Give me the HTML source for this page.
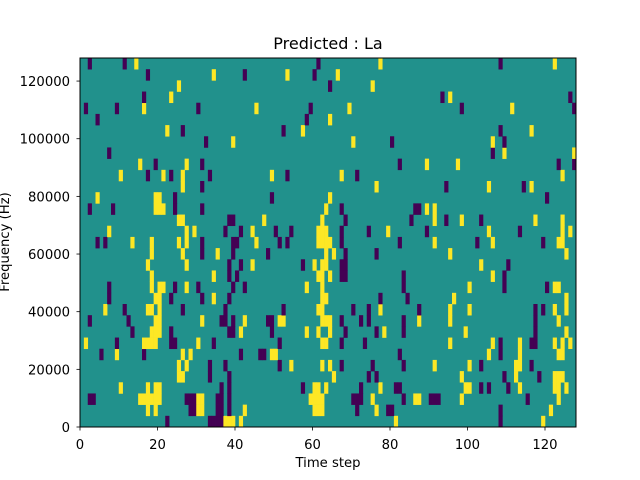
<!DOCTYPE html>
<html><head><meta charset="utf-8"><style>
body{margin:0;background:#fff}
svg{display:block;font-family:"DejaVu Sans","Liberation Sans",sans-serif}
</style></head><body>
<svg id="chart" width="640" height="480">
<rect width="640" height="480" fill="#fff"/>
<g id="cells"></g>
<g id="axes"></g>
</svg>
<script>
const nCols = 128;
const nRows = 33;
const binHz = 128000 / 33;
const xTicks = [0, 20, 40, 60, 80, 100, 120];
const yTicks = [0, 20000, 40000, 60000, 80000, 100000, 120000];
const titleText = "Predicted : La";
// yellow (+1) cells: [row, [cols]]
const yellowCells = [
[0,[37,38,39,41,81,119]],
[1,[17,19,30,31,42,60,61,62,76,121]],
[2,[15,16,17,18,19,20,30,31,59,60,61,62,75,86,87,98,123]],
[3,[10,17,19,20,60,61,63,77,99,100,113,122,123,125]],
[4,[25,26,65,98,112,122,123,124]],
[5,[25,27,54,62,64,91,100,112,113]],
[6,[9,26,28,49,50,105,113,123,124]],
[7,[1,16,17,18,19,30,62,63,95,106,113,122,124,126]],
[8,[18,19,20,41,58,61,64,78,99,125]],
[9,[19,20,31,42,51,52,62,63,64,87,95,123]],
[10,[6,17,18,20,61,62,77,95,100,122,125]],
[11,[19,20,34,62,63,96,125]],
[12,[18,20,21,27,58,62,100,122,123]],
[13,[18,34,61,62,64,106]],
[14,[17,27,44,60,62,63,103]],
[15,[18,26,35,63,65,95,125]],
[16,[13,18,25,27,45,61,62,63,64,91,106,123,124]],
[17,[7,27,29,44,61,62,63,79,105,124,126]],
[18,[25,26,47,62,91,98,117,124]],
[19,[19,20,21,63,89,91]],
[20,[4,19,20,64]],
[21,[26,76,105,116]],
[22,[10,21,26,49,67,124]],
[23,[15,27,89,97]],
[24,[109,127]],
[25,[39,70,106]],
[26,[22,57,116]],
[27,[64]],
[28,[16,45,69,111]],
[29,[23,95]],
[30,[25,75]],
[31,[34,53,66]],
[32,[14,77,122]]
];
// purple (-1) cells: [row, [cols]]
const purpleCells = [
[0,[22,33,34,35,36,108]],
[1,[28,29,35,36,38,71,79,80,108]],
[2,[2,3,27,28,29,35,36,38,70,71,72,83,90,91,92,115]],
[3,[36,38,57,72,81,82,103,105,110]],
[4,[33,38,74,76,109,118]],
[5,[33,37,51,67,75,83,103,116]],
[6,[5,16,41,46,47,82,108]],
[7,[9,23,24,34,51,67,73,108,116,117]],
[8,[13,23,38,39,49,68,76,83,117]],
[9,[2,12,36,37,39,48,49,67,72,74,83,117]],
[10,[11,26,37,52,70,74,87,117,119]],
[11,[7,23,31,38,77,84]],
[12,[7,24,30,39,42,83,109,120]],
[13,[38,40,67,68,83,109]],
[14,[38,41,57,67,68,110]],
[15,[31,39,48,68,76]],
[16,[4,6,31,39,40,51,53,67,82,102,119]],
[17,[37,41,50,54,67,74,89,113]],
[18,[38,39,68,85,94,103]],
[19,[2,8,24,31,67,86,87]],
[20,[24,49,120]],
[21,[31,94,114]],
[22,[17,23,33,53,71]],
[23,[19,31,82,123,127]],
[24,[7,106]],
[25,[32,80,109]],
[26,[26,52,108]],
[27,[4,58]],
[28,[1,9,30,59,98,127]],
[29,[16,93,126]],
[30,[64]],
[31,[17,42,60]],
[32,[2,11,61,108]]
];
const L = 80, R = 576, T = 58, B = 427;
function xScale(v){ return L + v * (R - L) / nCols; }
function yScale(v){ return B - v * (B - T) / (nRows * binHz); }
const NS = "http://www.w3.org/2000/svg";
const grid = [];
for (let r = 0; r < nRows; r++) { grid.push(new Array(nCols).fill(0)); }
yellowCells.forEach(([r, cs]) => cs.forEach(c => { grid[r][c] = 1; }));
purpleCells.forEach(([r, cs]) => cs.forEach(c => { grid[r][c] = -1; }));
const cellsG = document.getElementById('cells');
const bg = document.createElementNS(NS, 'rect');
bg.setAttribute('x', L); bg.setAttribute('y', T);
bg.setAttribute('width', R - L); bg.setAttribute('height', B - T);
bg.setAttribute('fill', '#21918c');


cellsG.appendChild(bg);
for (let r = 0; r < nRows; r++) {
  for (let c = 0; c < nCols; c++) {
    const v = grid[r][c];
    if (v === 0) continue;
    const rect = document.createElementNS(NS, 'rect');
    const x0 = xScale(c), x1 = xScale(c + 1);
    const y0 = yScale((r + 1) * binHz), y1 = yScale(r * binHz);
    rect.setAttribute('x', x0); rect.setAttribute('y', y0);
    rect.setAttribute('width', x1 - x0 + 0.3); rect.setAttribute('height', y1 - y0 + 0.3);
    rect.setAttribute('fill', v > 0 ? '#fde725' : '#440154');
    
    
    cellsG.appendChild(rect);
  }
}
const ax = document.getElementById('axes');
function add(tag, attrs, text){
  const e = document.createElementNS(NS, tag);
  for (const k in attrs) e.setAttribute(k, attrs[k]);
  if (text !== undefined) e.textContent = text;
  ax.appendChild(e); return e;
}
const frame = add('rect', {x:L, y:T, width:R-L, height:B-T, fill:'none', stroke:'#000', 'stroke-width':1});


xTicks.forEach(t => {
  const x = xScale(t);
  const tk = add('line', {x1:x, x2:x, y1:B, y2:B+3.5, stroke:'#000', 'stroke-width':0.8});
  
  
  const lb = add('text', {x:x, y:B+22, 'font-size':13.2, 'text-anchor':'middle', fill:'#000'}, String(t));
  
  
});
yTicks.forEach(t => {
  const y = yScale(t);
  const tk = add('line', {x1:L-3.5, x2:L, y1:y, y2:y, stroke:'#000', 'stroke-width':0.8});
  
  
  const lb = add('text', {x:L-10, y:y+5, 'font-size':13.2, 'text-anchor':'end', fill:'#000'}, String(t));
  
  
});
const title = add('text', {x:(L+R)/2, y:49, 'font-size':16, 'text-anchor':'middle', fill:'#000'}, titleText);


const xl = add('text', {x:(L+R)/2, y:467, 'font-size':13.2, 'text-anchor':'middle', fill:'#000'}, 'Time step');


const yl = add('text', {x:0, y:0, 'font-size':13.2, 'text-anchor':'middle', fill:'#000', transform:'translate(9,242) rotate(-90)'}, 'Frequency (Hz)');


</script>
</body></html>
